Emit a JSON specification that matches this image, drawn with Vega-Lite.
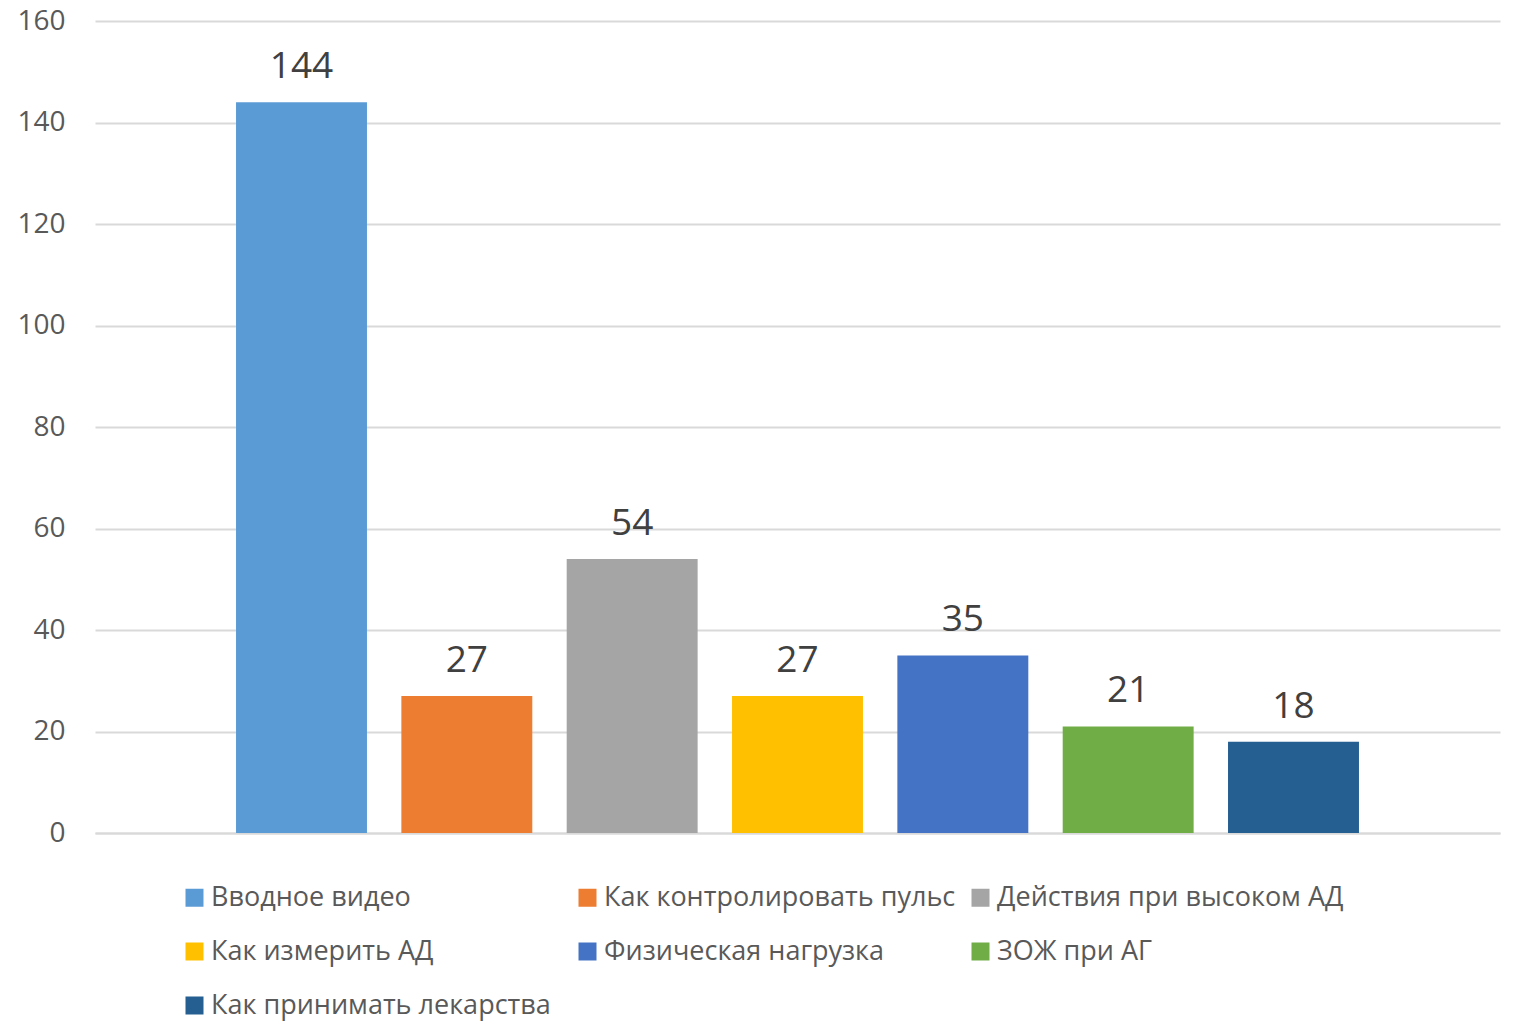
{
  "$schema": "https://vega.github.io/schema/vega-lite/v6.json",
  "width": 1405,
  "height": 812,
  "autosize": "none",
  "padding": {"left": 95, "top": 21, "right": 22, "bottom": 188},
  "background": "white",
  "config": {"view": {"stroke": null}, "font": "Open Sans"},
  "data": {"values": [
    {"name": "Вводное видео", "value": 144},
    {"name": "Как контролировать пульс", "value": 27},
    {"name": "Действия при высоком АД", "value": 54},
    {"name": "Как измерить АД", "value": 27},
    {"name": "Физическая нагрузка", "value": 35},
    {"name": "ЗОЖ при АГ", "value": 21},
    {"name": "Как принимать лекарства", "value": 18}
  ]},
  "encoding": {
    "x": {"field": "name", "type": "nominal", "sort": null,
      "scale": {"paddingInner": 0.208, "paddingOuter": 0.853},
      "axis": {"labels": false, "ticks": false, "title": null, "domainColor": "#D9D9D9", "domainWidth": 2, "grid": false}},
    "y": {"field": "value", "type": "quantitative",
      "scale": {"domain": [0, 160]},
      "axis": {"values": [0, 20, 40, 60, 80, 100, 120, 140, 160], "title": null, "domain": false, "ticks": false,
        "gridColor": "#D9D9D9", "gridWidth": 2, "labelFontSize": 28, "labelColor": "#595959", "labelPadding": 30}}
  },
  "layer": [
    {"mark": {"type": "bar"},
     "encoding": {"color": {"field": "name", "type": "nominal", "sort": null,
       "scale": {"domain": ["Вводное видео", "Как контролировать пульс", "Действия при высоком АД", "Как измерить АД", "Физическая нагрузка", "ЗОЖ при АГ", "Как принимать лекарства"],
                 "range": ["#5B9BD5", "#ED7D31", "#A5A5A5", "#FFC000", "#4472C4", "#70AD47", "#255E91"]},
       "legend": {"title": null, "orient": "none", "direction": "horizontal", "legendX": 86, "legendY": 863, "padding": 0, "columns": 3, "gridAlign": "all",
         "symbolType": "square", "symbolSize": 324, "symbolStrokeWidth": 0, "symbolOpacity": 1,
         "labelFontSize": 27, "labelColor": "#595959", "labelOffset": 3, "labelLimit": 600,
         "columnPadding": 11, "rowPadding": 26}}}},
    {"mark": {"type": "text", "dy": -16, "baseline": "bottom", "align": "center", "fontSize": 37, "color": "#404040"},
     "encoding": {"text": {"field": "value", "type": "quantitative"}}}
  ]
}
